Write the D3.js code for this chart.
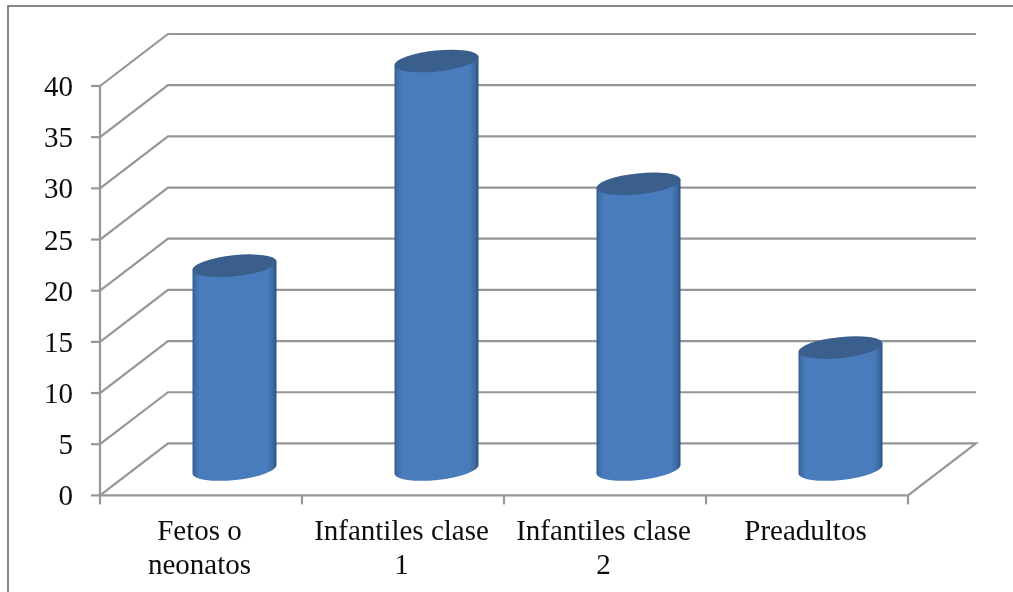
<!DOCTYPE html>
<html><head><meta charset="utf-8">
<script src="https://cdn.jsdelivr.net/npm/d3@7"></script>
<style>html,body{margin:0;padding:0;background:#fff;overflow:hidden}svg{display:block}text{font-family:"Liberation Serif",serif;fill:#111}</style>
</head><body><div id="c"></div>
<script>
const categories = [["Fetos o","neonatos"],["Infantiles clase","1"],["Infantiles clase","2"],["Preadultos"]];
const values = [20, 40, 28, 12];
const ticks = [0,5,10,15,20,25,30,35,40];

const W=1013,H=592, dx=68, dy=-52;
const svg=d3.select("#c").append("svg").attr("width",W).attr("height",H);
const defs=svg.append("defs");
const g=defs.append("linearGradient").attr("id","cyl");
[[0,"#305a8c"],[0.03,"#3f6ea8"],[0.09,"#4a7cbc"],[0.88,"#4a7cbc"],[0.95,"#3f6ea6"],[1,"#2c5280"]]
 .forEach(d=>g.append("stop").attr("offset",d[0]).attr("stop-color",d[1]));
const f=defs.append("filter").attr("id","soft").attr("x","-5%").attr("y","-5%").attr("width","110%").attr("height","110%");
f.append("feGaussianBlur").attr("stdDeviation",0.6);
const ft=defs.append("filter").attr("id","softText").attr("x","-5%").attr("y","-5%").attr("width","110%").attr("height","110%");
ft.append("feGaussianBlur").attr("stdDeviation",0.35);

svg.append("rect").attr("x",8).attr("y",6).attr("width",W+20).attr("height",H).attr("fill","#fff").attr("stroke","#555").attr("stroke-width",1.4);

const y=d3.scaleLinear().domain([0,40]).range([495.4,86]);
const x=d3.scaleBand().domain(d3.range(categories.length)).range([100,908]);
const grid="#96969a";
const lines=svg.append("g").attr("filter","url(#soft)");
const X0=x.range()[0],X1=x.range()[1];
ticks.forEach(t=>{
  const yy=y(t);
  const pts = t===0 ? [[X0,yy],[X0+dx,yy+dy],[X1+dx,yy+dy],[X1,yy]] : [[X0,yy],[X0+dx,yy+dy],[X1+dx,yy+dy]];
  lines.append("path").attr("d",d3.line()(pts)).attr("fill","none").attr("stroke",grid).attr("stroke-width",2.2);
});
const axes=svg.append("g").attr("filter","url(#soft)");
axes.append("path").attr("d",d3.line()([[X0,y(40)],[X0,y(0)]])).attr("stroke",grid).attr("stroke-width",2.2);
axes.append("path").attr("d",d3.line()([[X0,y(0)],[X1,y(0)]])).attr("stroke",grid).attr("stroke-width",2.2);
ticks.forEach(t=>axes.append("path").attr("d",d3.line()([[X0-9,y(t)],[X0,y(t)]])).attr("stroke",grid).attr("stroke-width",2.2));
d3.range(categories.length+1).forEach(i=>{
  const xx=X0+i*x.bandwidth();
  axes.append("path").attr("d",d3.line()([[xx,y(0)],[xx,y(0)+9]])).attr("stroke",grid).attr("stroke-width",2.2);
});
svg.append("g").attr("filter","url(#softText)").selectAll("text").data(ticks).join("text")
 .attr("x",X0-27).attr("y",d=>y(d)+10).attr("text-anchor","end").attr("font-size",29).text(d=>d);

const rx=42, ry=10.5, rot=-6;
const bars=svg.append("g");
categories.forEach((c,i)=>{
  const cx=x(i)+x.bandwidth()/2+dx/2-0.5;
  const base=y(0)+dy/2;
  const top=y(values[i])+dy/2+1;
  const s=Math.sin(rot*Math.PI/180)*rx;
  const b=bars.append("g").attr("filter","url(#soft)");
  const xl=cx-rx, xr=cx+rx;
  const tyL=top-s, tyR=top+s, byL=base-s, byR=base+s;
  b.append("path").attr("fill","url(#cyl)")
   .attr("d",`M${xl},${tyL}L${xr},${tyR}L${xr},${byR}A${rx},${ry} ${rot} 0 1 ${xl},${byL}Z`);
  b.append("ellipse").attr("cx",cx).attr("cy",top).attr("rx",rx+0.3).attr("ry",ry)
   .attr("transform",`rotate(${rot} ${cx} ${top})`).attr("fill","#3b5f8c");
});
svg.append("g").attr("filter","url(#softText)").selectAll("text").data(categories).join("text")
 .attr("text-anchor","middle").attr("font-size",29)
 .each(function(c,i){
   const t=d3.select(this), cx=x(i)+x.bandwidth()/2-1.5;
   c.forEach((s,j)=>t.append("tspan").attr("x",cx).attr("y",540+j*34).text(s));
 });
</script></body></html>
